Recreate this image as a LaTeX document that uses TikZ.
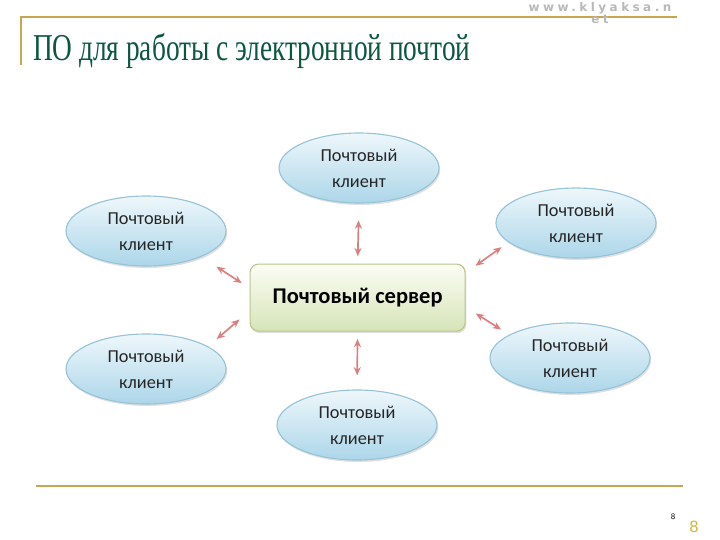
\documentclass[tikz,border=0pt]{standalone}
\usepackage{fontspec}
\setmainfont{Liberation Serif}
\newfontfamily\clientfont{Carlito}
\newfontfamily\markfont[LetterSpace=29]{DejaVu Sans}
\usepackage{graphicx}
\usepackage{tikz}
\usetikzlibrary{positioning}
\usetikzlibrary{shapes.geometric}
\usetikzlibrary{shadows}
\usetikzlibrary{arrows.meta}
\definecolor{gold}{RGB}{200,165,80}
\definecolor{titlegreen}{RGB}{12,88,60}
\definecolor{clienttop}{RGB}{238,247,251}
\definecolor{clientbot}{RGB}{172,214,233}
\definecolor{clientedge}{RGB}{150,195,216}
\definecolor{servertop}{RGB}{252,253,244}
\definecolor{serverbot}{RGB}{214,228,184}
\definecolor{serveredge}{RGB}{182,198,140}
\definecolor{linkred}{RGB}{218,128,128}

\begin{document}
\begin{tikzpicture}[
	client/.style={ellipse, draw=clientedge, thick, top color=clienttop, bottom color=clientbot,
		minimum width=4cm, minimum height=1.75cm, inner sep=0pt, align=center,
		font=\clientfont\fontsize{13}{18.5}\selectfont, text=black!85,
		drop shadow={shadow xshift=0.03cm, shadow yshift=-0.05cm, opacity=0.25}},
	server/.style={rectangle, rounded corners=6pt, draw=serveredge, thick,
		top color=servertop, bottom color=serverbot,
		minimum width=5.375cm, minimum height=1.675cm,
		font=\clientfont\bfseries\fontsize{16}{19}\selectfont,
		drop shadow={shadow xshift=0.03cm, shadow yshift=-0.05cm, opacity=0.25}},
	link/.style={{Stealth[length=6pt,width=5pt]}-{Stealth[length=6pt,width=5pt]},
		line width=1.2pt, linkred, shorten <=0.25cm, shorten >=0.25cm}]
	\useasboundingbox (0,0) rectangle (18,-13.5);

	% frame lines
	\draw[gold, line width=1.5pt] (0.525,-1.625) -- (0.525,-0.425) -- (16.925,-0.425);
	\draw[gold, line width=1.5pt] (0.9,-12.15) -- (17.075,-12.15);
	\node[anchor=north, inner sep=0pt, text=black!28, font=\markfont\bfseries\fontsize{8.5}{8}\selectfont, align=center] (mark) at (15,-0.06) {www.klyaksa.n\\et};

	\node[anchor=base west, text=titlegreen, font=\fontsize{27}{30}\selectfont, inner sep=0pt] (title) at (0.82,-1.5)
		{\scalebox{0.72}[1]{ПО для работы с электронной почтой}};

	\node[server] (srv) at (8.94,-7.44) {Почтовый сервер};

	\node[client] (tc) at (8.975,-4.2) {Почтовый\\клиент};
	\node[client] (tl) at (3.65,-5.775) {Почтовый\\клиент};
	\node[client] (tr) at (14.4,-5.575) {Почтовый\\клиент};
	\node[client] (bl) at (3.65,-9.225) {Почтовый\\клиент};
	\node[client] (br) at (14.25,-8.95) {Почтовый\\клиент};
	\node[client] (bc) at (8.925,-10.625) {Почтовый\\клиент};

	\draw[link, shorten <=0.18cm, shorten >=0.42cm] (srv.north) -- (tc.south);
	\draw[link, shorten <=0.18cm, shorten >=0.35cm] (srv.south) -- (bc.north);
	\draw[link, shorten <=0.23cm, shorten >=0.45cm] (srv.175) -- (tl.-25);
	\draw[link, shorten <=0.33cm, shorten >=0.28cm] (srv.187) -- (bl.20);
	\draw[link, shorten <=0.3cm, shorten >=0.21cm] (srv.13) -- (tr.196);
	\draw[link, shorten <=0.3cm, shorten >=0.24cm] (srv.-5) -- (br.159);

	\node[font=\sffamily\fontsize{6}{7}\selectfont] (num) at (16.825,-12.925) {8};
	\node[text=gold!80!yellow, font=\markfont\fontsize{11}{12}\selectfont] (pagenum) at (17.35,-13.175) {8};
\end{tikzpicture}
\end{document}
